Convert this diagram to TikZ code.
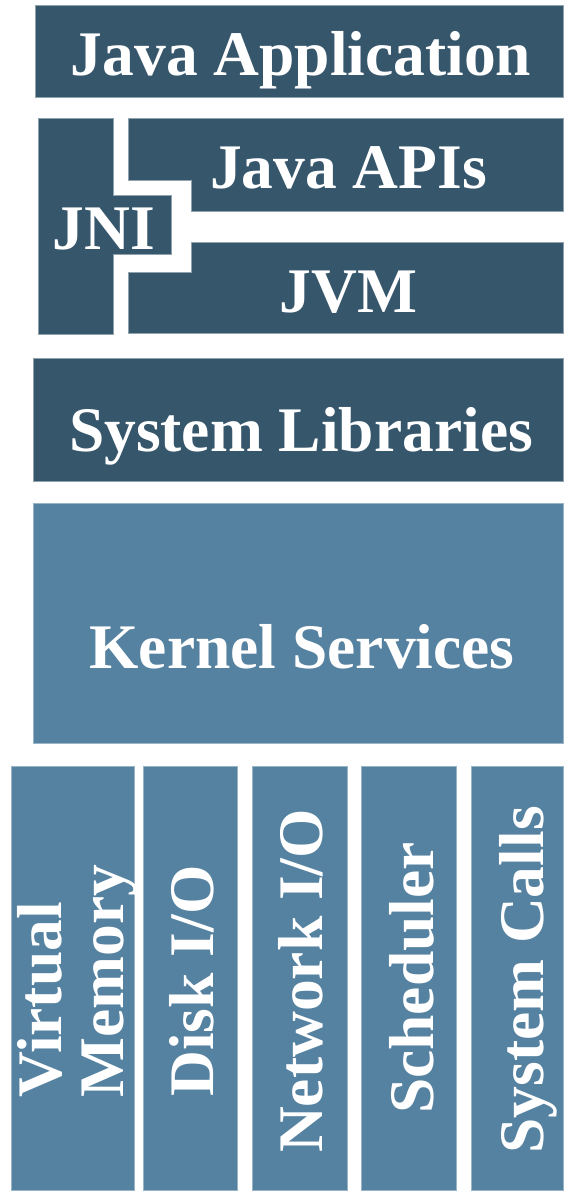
\documentclass[tikz,border=0pt]{standalone}
\usepackage{fontspec}
\setmainfont{Liberation Serif}
\usepackage{tikz}
\definecolor{darkslate}{RGB}{54,86,108}
\definecolor{lightslate}{RGB}{85,130,160}
\tikzset{>=latex}
\tikzset{
  darklayer/.style={fill=darkslate, draw=darkslate!55!white, line width=0.6pt},
  lightlayer/.style={fill=lightslate, draw=lightslate!60!white, line width=0.6pt},
  layertext/.style={text=white, inner sep=0pt, anchor=base,
    font=\fontsize{63.5}{62}\selectfont\bfseries}
}

\begin{document}
\begin{tikzpicture}[x=1pt, y=-1pt]
  \useasboundingbox (0,0) rectangle (563,1192);

  % Java layers
  \draw[darklayer] (35,5) rectangle (563,97);
  \draw[darklayer] (38,118) -- (113,118) -- (113,195) -- (171,195) -- (171,254)
    -- (113,254) -- (113,334) -- (38,334) -- cycle;
  \draw[darklayer] (128,118) -- (563,118) -- (563,211) -- (191,211) -- (191,180)
    -- (128,180) -- cycle;
  \draw[darklayer] (191,242) -- (563,242) -- (563,333) -- (128,333) -- (128,272)
    -- (191,272) -- cycle;

  \node[layertext] (app) at (301,75) {Java Application};
  \node[layertext] (apis) at (348.5,188) {Java APIs};
  \node[layertext] (jvm) at (348.5,312) {JVM};
  \node[layertext] (jni) at (104,249) {JNI};

  % OS layers
  \draw[darklayer] (33,358) rectangle (563,481);
  \draw[lightlayer] (33,503) rectangle (563,743);
  \node[layertext] (syslib) at (301,451) {System Libraries};
  \node[layertext] (kernel) at (302,668) {Kernel Services};

  % Kernel parts
  \foreach \l/\r in {11/134, 143/237, 252/347, 361/456, 471/563}
    \draw[lightlayer] (\l,766) rectangle (\r,1190);

  \node[layertext, rotate=90, anchor=north, align=left] (vmem) at (17,981)
    {Virtual\\Memory};
  \node[layertext, rotate=90] (disk) at (213,981) {Disk I/O};
  \node[layertext, rotate=90] (net) at (322,981) {Network I/O};
  \node[layertext, rotate=90] (sched) at (433,978) {Scheduler};
  \node[layertext, rotate=90] (calls) at (543,980) {System Calls};

\end{tikzpicture}
\end{document}
